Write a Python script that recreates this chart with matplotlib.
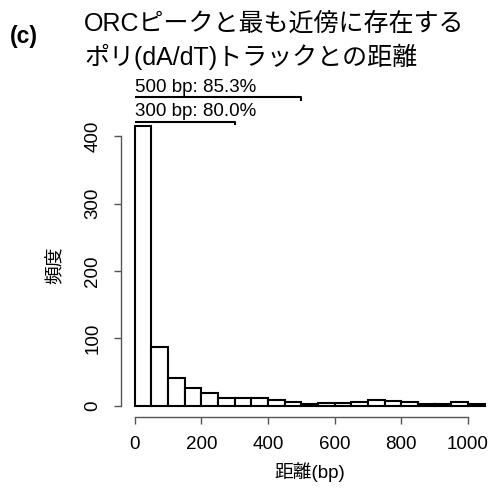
import numpy as np
import matplotlib
matplotlib.use("Agg")
import matplotlib.pyplot as plt

plt.rcParams["font.family"] = ["Liberation Sans", "Noto Sans CJK JP"]

# histogram of distances (bp), 50 bp bins
bin_edges = np.arange(0, 1051, 50)
counts = [416, 88, 41, 26, 19, 12, 12, 12, 8, 5, 2, 4, 4, 5, 8, 7, 5, 2, 2, 5, 2]

x_ticks = [0, 200, 400, 600, 800, 1000]
y_ticks = [0, 100, 200, 300, 400]

brackets = [(500, "500 bp: 85.3%"), (300, "300 bp: 80.0%")]
bracket_y = [458, 422]

title_lines = ["ORCピークと最も近傍に存在する", "ポリ(dA/dT)トラックとの距離"]

W = H = 491
fig = plt.figure(figsize=(4.91, 4.91), dpi=100)
ax = fig.add_axes([120.7 / W, 1 - 417 / H, 378 / W, (417 - 113.6) / H])

lefts = bin_edges[:-1]
widths = np.diff(bin_edges)
ax.bar(lefts, counts, width=widths, align="edge", facecolor="white",
       edgecolor="black", linewidth=1.5)

ax.set_xlim(-42, 1092)
ax.set_ylim(-16.7, 434)

for s in ["top", "right"]:
    ax.spines[s].set_visible(False)
ax.spines["left"].set_bounds(0, 400)
ax.spines["bottom"].set_bounds(0, 1000)
for s in ["left", "bottom"]:
    ax.spines[s].set_color("#555555")
    ax.spines[s].set_linewidth(1.0)

ax.set_xticks(x_ticks)
ax.set_yticks(y_ticks)
ax.tick_params(axis="both", length=5, width=1.0, color="#555555",
               labelsize=13.5, pad=9)
plt.setp(ax.get_yticklabels(), rotation=90, va="center")

ax.set_xlabel("距離(bp)", fontsize=13.5, labelpad=6)
ax.set_ylabel("頻度", fontsize=13.5, labelpad=14)

# percentage brackets above the first bar
for (end, label), yb in zip(brackets, bracket_y):
    ax.plot([0, end, end], [yb, yb, yb - 5], color="black", lw=1.5,
            clip_on=False, solid_capstyle="butt")
    ax.text(0, yb + 2, label, fontsize=13.5, ha="left", va="bottom")

fig.text(10 / W, 1 - 37 / H, "(c)", fontsize=16.5, fontweight="bold",
         ha="left", va="center")
fig.text(84 / W, 1 - 24 / H, title_lines[0], fontsize=18,
         ha="left", va="center")
fig.text(84 / W, 1 - 57 / H, title_lines[1], fontsize=18,
         ha="left", va="center")

fig.savefig("out.png", dpi=100)
